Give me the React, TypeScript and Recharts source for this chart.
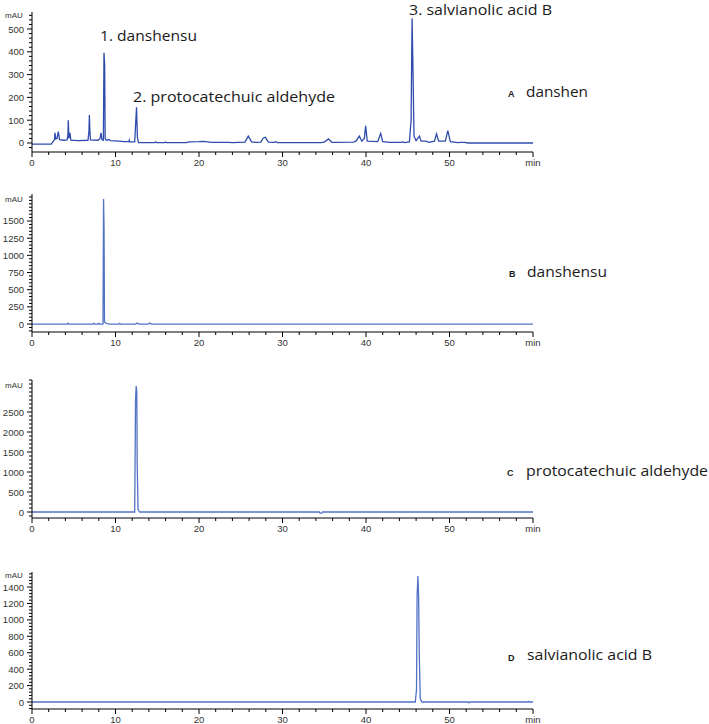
import React from 'react';
import { LineChart, Line, XAxis, YAxis } from 'recharts';

type Pt = [number, number];

// retention time (min), absorbance (mAU)
const danshenTrace: Pt[] = [
  [0, -5], [2.3, -5], [2.5, 5], [2.7, 15], [2.75, 45], [2.85, 18], [3.0, 20], [3.15, 50], [3.3, 15],
  [3.8, 12], [4.2, 14], [4.3, 35], [4.35, 100], [4.42, 20], [4.55, 45], [4.65, 12], [5.5, 10],
  [6.7, 12], [6.82, 50], [6.87, 123], [6.93, 55], [7.0, 14], [7.9, 12], [8.15, 20], [8.26, 45],
  [8.38, 15], [8.55, 12], [8.62, 396], [8.7, 345], [8.76, 20], [8.9, 12], [9.2, 15], [9.4, 10],
  [10.5, 8], [11.0, 6], [11.6, 6], [11.65, 12], [11.7, 5], [12.3, 5], [12.42, 90], [12.52, 157],
  [12.62, 25], [12.75, 2], [14.7, 2], [14.8, 5], [14.9, 2], [15.9, 2], [16, 4], [16.1, 2],
  [18.5, 2], [18.8, 5], [20.0, 6], [20.5, 7], [21.0, 5], [21.5, 3], [23.5, 3], [24, 2], [25.5, 4],
  [25.9, 30], [26.3, 5], [26.8, 3], [27.4, 4], [27.7, 22], [27.95, 25], [28.3, 4], [29.0, 3],
  [29.2, 6], [29.4, 2], [34.6, 2], [35.0, 4], [35.5, 18], [35.9, 3], [38.5, 4], [38.8, 8],
  [39.2, 30], [39.5, 8], [39.8, 20], [39.96, 75], [40.15, 8], [41.4, 6], [41.76, 42], [42.0, 6],
  [42.8, 3], [44.2, 3], [44.4, 5], [44.6, 2], [45.2, 5], [45.4, 100], [45.52, 547], [45.62, 335],
  [45.75, 30], [46.0, 10], [46.4, 30], [46.6, 8], [47.2, 8], [47.5, 3], [48.2, 8], [48.45, 40],
  [48.7, 8], [49.5, 8], [49.8, 54], [50.1, 6], [51.0, 2], [51.4, 3], [51.8, 3], [52.2, 0], [60, 0],
];

const danshensuTrace: Pt[] = [
  [0, 0], [4.2, 0], [4.3, 12], [4.4, 0], [7.3, 0], [7.4, 10], [7.5, 0], [7.9, 0], [8.0, 10],
  [8.1, 0], [8.5, 0], [8.57, 1820], [8.63, 1360], [8.68, 30], [8.8, 15], [9.0, 5], [9.3, 0],
  [10.4, 0], [10.5, 10], [10.6, 0], [12.4, 0], [12.6, 15], [12.8, 0], [13.9, 0], [14.1, 15],
  [14.3, 0], [60, 0],
];

const aldehydeTrace: Pt[] = [
  [0, 0], [12.3, 0], [12.4, 2800], [12.48, 3150], [12.55, 3000], [12.6, 1200], [12.7, 60],
  [12.9, 0], [34.4, 0], [34.5, -30], [34.7, -30], [34.8, 0], [60, 0],
];

const salvianolicTrace: Pt[] = [
  [0, 0], [45.9, 0], [46.05, 150], [46.12, 1300], [46.22, 1533], [46.3, 1300], [46.38, 580],
  [46.5, 40], [46.7, 0], [52.2, 0], [52.3, -10], [52.4, 0], [59.4, 0], [59.5, 8], [59.6, 0], [60, 0],
];

const timeTicks = [0, 2, 4, 6, 8, 10, 12, 14, 16, 18, 20, 22, 24, 26, 28, 30, 32, 34, 36, 38, 40, 42, 44, 46, 48, 50, 52, 54, 56, 58, 60];

const ticksA = [0, 100, 200, 300, 400, 500];
const ticksB = [0, 250, 500, 750, 1000, 1250, 1500];
const ticksC = [0, 500, 1000, 1500, 2000, 2500];
const ticksD = [0, 200, 400, 600, 800, 1000, 1200, 1400];

const withMinor = (major: number[], lo: number, hi: number) => {
  const step = (major[1] - major[0]) / 5;
  const out: number[] = [];
  for (let v = Math.ceil(lo / step) * step; v <= hi; v += step) out.push(Math.round(v * 100) / 100);
  return out;
};

const TimeTick = (props: any) => {
  const { x, y, payload } = props;
  const v = payload.value;
  const major = v % 10 === 0;
  return (
    <g>
      <line x1={x} y1={y} x2={x} y2={y + (major ? 5 : 3)} stroke="#000" />
      {major && (
        <text x={x} y={y + 14} textAnchor="middle" fontSize={9.5} fill="#333" fontFamily="Liberation Sans, Arial">
          {v === 60 ? 'min' : v}
        </text>
      )}
    </g>
  );
};

const makeValueTick = (major: number[]) => (props: any) => {
  const { x, y, payload } = props;
  const isMajor = major.includes(payload.value);
  return (
    <g>
      <line x1={x - (isMajor ? 5 : 3)} y1={y} x2={x} y2={y} stroke="#000" />
      {isMajor && (
        <text x={x - 8} y={y + 3.5} textAnchor="end" fontSize={9.5} fill="#333" fontFamily="Liberation Sans, Arial">
          {payload.value}
        </text>
      )}
    </g>
  );
};

interface PanelProps {
  trace: Pt[];
  top: number;
  domain: [number, number];
  major: number[];
  plotHeight: number;
  axisHeight: number;
  color: string;
}

const Panel: React.FC<PanelProps> = ({ trace, top, domain, major, plotHeight, axisHeight, color }) => {
  const data = trace.map(([t, v]) => ({ t, v }));
  const ValueTick = makeValueTick(major);
  return (
    <div style={{ position: 'absolute', left: 0, top }}>
      <LineChart width={545} height={12 + plotHeight + axisHeight} data={data}
        margin={{ top: 12, right: 12, bottom: 0, left: 0 }}>
        <XAxis dataKey="t" type="number" domain={[0, 60]} ticks={timeTicks} interval={0} allowDataOverflow
          height={axisHeight} tickSize={0} tickMargin={0} tick={<TimeTick />} axisLine={{ stroke: '#000' }} />
        <YAxis type="number" domain={domain} allowDataOverflow width={32} interval={0}
          ticks={withMinor(major, domain[0], domain[1])} tickSize={0} tickMargin={0}
          tick={<ValueTick />} axisLine={{ stroke: '#000' }} />
        <Line type="linear" dataKey="v" stroke={color} strokeWidth={1.3} dot={false} isAnimationActive={false} />
      </LineChart>
    </div>
  );
};

const big = { fontFamily: 'Open Sans, Noto Sans, sans-serif', fontSize: 15, fill: '#1a1a1a' };
const tag = { fontFamily: 'Liberation Sans, Arial, sans-serif', fontSize: 9, fontWeight: 700, fill: '#1a1a1a' };
const unit = { fontFamily: 'Liberation Sans, Arial, sans-serif', fontSize: 8, fill: '#333' };

export default function App() {
  return (
    <div style={{ position: 'absolute', left: 0, top: 0, width: 709, height: 724, background: '#fff', overflow: 'hidden' }}>
      <Panel trace={danshenTrace} top={0} domain={[-39.5, 574.6]} major={ticksA} plotHeight={140} axisHeight={20} color="#2f4cad" />
      <Panel trace={danshensuTrace} top={182} domain={[-116, 1893]} major={ticksB} plotHeight={138} axisHeight={20} color="#5272c6" />
      <Panel trace={aldehydeTrace} top={368} domain={[-150, 3300]} major={ticksC} plotHeight={138} axisHeight={20} color="#5272c6" />
      <Panel trace={salvianolicTrace} top={560} domain={[-85, 1583]} major={ticksD} plotHeight={137} axisHeight={15} color="#5272c6" />
      <svg width={709} height={724} style={{ position: 'absolute', left: 0, top: 0, pointerEvents: 'none' }}>
        <text x={5} y={18} {...unit}>mAU</text>
        <text x={5} y={202} {...unit}>mAU</text>
        <text x={5} y={388} {...unit}>mAU</text>
        <text x={5} y={578} {...unit}>mAU</text>

        <text x={100} y={40.5} textLength={97} lengthAdjust="spacingAndGlyphs" {...big}>1. danshensu</text>
        <text x={133} y={101.5} textLength={202} lengthAdjust="spacingAndGlyphs" {...big}>2. protocatechuic aldehyde</text>
        <text x={409} y={15} textLength={143} lengthAdjust="spacingAndGlyphs" {...big}>3. salvianolic acid B</text>

        <text x={508} y={97} {...tag}>A</text>
        <text x={526} y={96.5} textLength={62} lengthAdjust="spacingAndGlyphs" {...big}>danshen</text>
        <text x={509} y={277} {...tag}>B</text>
        <text x={527} y={276.5} textLength={80} lengthAdjust="spacingAndGlyphs" {...big}>danshensu</text>
        <text x={507} y={476} {...tag}>C</text>
        <text x={526} y={475.5} textLength={182} lengthAdjust="spacingAndGlyphs" {...big}>protocatechuic aldehyde</text>
        <text x={508} y={661} {...tag}>D</text>
        <text x={527} y={660} textLength={125} lengthAdjust="spacingAndGlyphs" {...big}>salvianolic acid B</text>
      </svg>
    </div>
  );
}
